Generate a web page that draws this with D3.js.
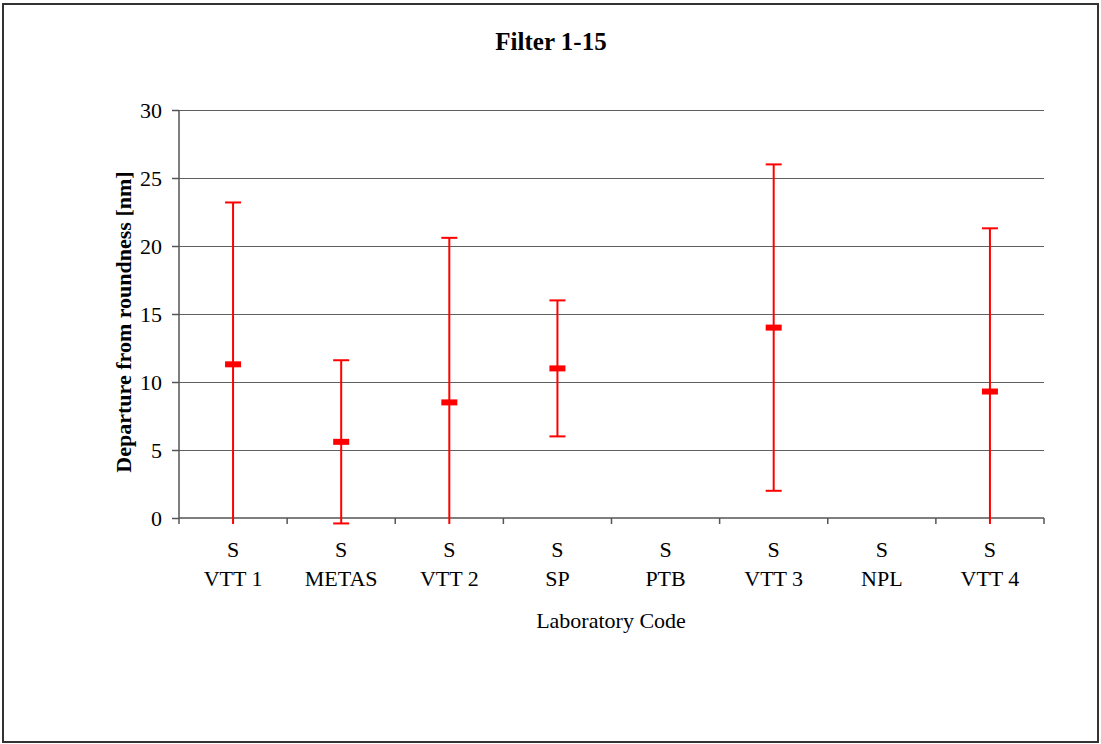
<!DOCTYPE html>
<html>
<head>
<meta charset="utf-8">
<script src="https://cdn.jsdelivr.net/npm/d3@7"></script>
<style>
html,body{margin:0;padding:0;background:#fff;}
svg{display:block;}
text{font-family:"Liberation Serif","Times New Roman",serif;fill:#000;}
</style>
</head>
<body>
<svg id="chart" width="1101" height="744"></svg>
<script>
const categories = ["VTT 1","METAS","VTT 2","SP","PTB","VTT 3","NPL","VTT 4"];
const prefix = "S";
const centerValues = [11.3, 5.6, 8.5, 11.0, null, 14.0, null, 9.3];
const upperValues  = [23.2, 11.6, 20.6, 16.0, null, 26.0, null, 21.3];
const lowerValues  = [-0.6, -0.4, -3.6, 6.0, null, 2.0, null, -2.7];
const yTicks = [0, 5, 10, 15, 20, 25, 30];
const titleText = "Filter 1-15";
const yLabel = "Departure from roundness [nm]";
const xLabel = "Laboratory Code";

const W = 1101, H = 744;
const plot = {left: 179, right: 1044, top: 110, bottom: 518};
const svg = d3.select("#chart");

// outer border
svg.append("rect").attr("x", 3).attr("y", 4).attr("width", 1095).attr("height", 738)
  .attr("fill", "#fff").attr("stroke", "#333").attr("stroke-width", 2);

const x = d3.scaleBand().domain(categories).range([plot.left, plot.right]).padding(0);
const y = d3.scaleLinear().domain([0, 30]).range([plot.bottom, plot.top]);

// gridlines
svg.append("g").selectAll("line").data(yTicks.filter(d => d > 0)).join("line")
  .attr("x1", plot.left).attr("x2", plot.right)
  .attr("y1", d => Math.round(y(d)) + 0.5).attr("y2", d => Math.round(y(d)) + 0.5)
  .attr("stroke", "#606060").attr("stroke-width", 1);

// y axis
const yAxis = d3.axisLeft(y).tickValues(yTicks).tickSize(7).tickPadding(10).tickFormat(d3.format("d"));
const gy = svg.append("g").attr("transform", `translate(${plot.left},0)`).call(yAxis);
gy.select(".domain").attr("stroke", "#555").attr("stroke-width", 1.5).attr("d", `M0,${plot.top}V${plot.bottom}`);
gy.selectAll(".tick line").attr("stroke", "#555").attr("stroke-width", 1.5);
gy.selectAll(".tick text").attr("font-size", 22).attr("font-family", "Liberation Serif").attr("fill", "#000").attr("dy", "0.34em");

// x axis
const boundaries = categories.map(c => x(c)).concat([plot.right]);
const gx = svg.append("g");
gx.append("line").attr("x1", plot.left).attr("x2", plot.right)
  .attr("y1", plot.bottom).attr("y2", plot.bottom).attr("stroke", "#555").attr("stroke-width", 1.5);
gx.selectAll("line.tk").data(boundaries).join("line").attr("class", "tk")
  .attr("x1", d => d).attr("x2", d => d).attr("y1", plot.bottom).attr("y2", plot.bottom + 6)
  .attr("stroke", "#555").attr("stroke-width", 1.5);
const lbl = gx.selectAll("text.cat").data(categories).join("text").attr("class", "cat")
  .attr("x", d => x(d) + x.bandwidth() / 2).attr("text-anchor", "middle").attr("font-size", 22);
lbl.append("tspan").attr("x", d => x(d) + x.bandwidth() / 2).attr("y", 557).text(prefix);
lbl.append("tspan").attr("x", d => x(d) + x.bandwidth() / 2).attr("y", 586).text(d => d);

// error bars (clipped slightly below axis)
const clipMin = -0.45;
const data = categories.map((c, i) => ({c, v: centerValues[i], hi: upperValues[i], lo: lowerValues[i]}))
  .filter(d => d.v !== null);
const gE = svg.append("g");
const cx = d => x(d.c) + x.bandwidth() / 2;
gE.selectAll("line.bar").data(data).join("line").attr("class", "bar")
  .attr("x1", cx).attr("x2", cx)
  .attr("y1", d => y(d.hi)).attr("y2", d => y(Math.max(d.lo, clipMin)))
  .attr("stroke", "#ff0000").attr("stroke-width", 2);
gE.selectAll("line.capHi").data(data).join("line").attr("class", "capHi")
  .attr("x1", d => cx(d) - 8).attr("x2", d => cx(d) + 8)
  .attr("y1", d => y(d.hi)).attr("y2", d => y(d.hi))
  .attr("stroke", "#ff0000").attr("stroke-width", 2);
gE.selectAll("line.capLo").data(data.filter(d => d.lo >= clipMin)).join("line").attr("class", "capLo")
  .attr("x1", d => cx(d) - 8).attr("x2", d => cx(d) + 8)
  .attr("y1", d => y(d.lo)).attr("y2", d => y(d.lo))
  .attr("stroke", "#ff0000").attr("stroke-width", 2);
gE.selectAll("rect.mk").data(data).join("rect").attr("class", "mk")
  .attr("x", d => cx(d) - 8).attr("y", d => y(d.v) - 3)
  .attr("width", 16).attr("height", 6).attr("fill", "#ff0000");

// titles
svg.append("text").attr("x", 551).attr("y", 50).attr("text-anchor", "middle")
  .attr("font-size", 25).attr("font-weight", "bold").text(titleText);
svg.append("text").attr("transform", `translate(131,${(plot.top + plot.bottom) / 2 + 8}) rotate(-90)`)
  .attr("text-anchor", "middle").attr("font-size", 22).attr("font-weight", "bold").text(yLabel);
svg.append("text").attr("x", 611).attr("y", 628).attr("text-anchor", "middle")
  .attr("font-size", 22).text(xLabel);
</script>
</body>
</html>
